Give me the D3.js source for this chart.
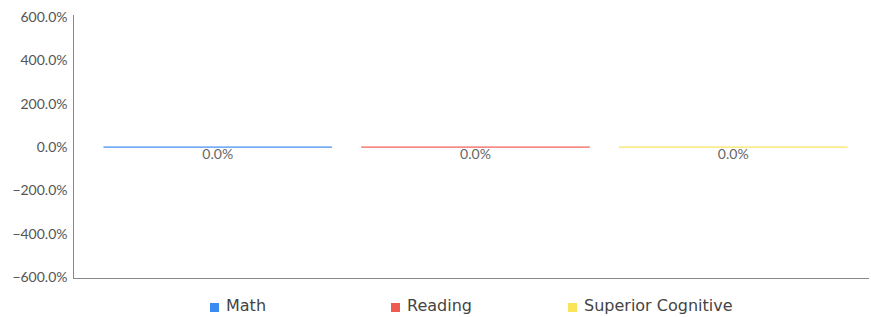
<!DOCTYPE html>
<html>
<head>
<meta charset="utf-8">
<script src="https://cdn.jsdelivr.net/npm/d3@7"></script>
<style>
  body { margin: 0; background: #fff; }
</style>
</head>
<body>
<div id="chart"></div>
<script>
var series = ["Math", "Reading", "Superior Cognitive"];
var values = [0, 0, 0];
var colors = ["#3a8bf2", "#ef5b51", "#f9e45a"];
var yTicks = [-6, -4, -2, 0, 2, 4, 6];

var svgWidth = 871;
var svgHeight = 317;

var svg = d3.select("#chart")
  .append("svg")
  .attr("width", svgWidth)
  .attr("height", svgHeight);

var x = d3.scaleBand()
  .domain(series)
  .range([89, 862])
  .paddingInner(0.113)
  .paddingOuter(0.056);

var y = d3.scaleLinear()
  .domain([-6, 6])
  .range([277, 17]);

// y axis
var leftAxis = d3.axisLeft(y)
  .tickValues(yTicks)
  .tickSize(0)
  .tickPadding(6)
  .tickFormat(d3.format(".1%"));

var yAxis = svg.append("g")
  .attr("transform", "translate(73.5,0)")
  .call(leftAxis)
  .attr("font-family", "Lato, sans-serif")
  .attr("font-size", 14);
yAxis.selectAll(".tick text").attr("fill", "#555");
yAxis.select(".domain").attr("stroke", "#888").attr("d", "M0,15V278.5");

// x baseline
svg.append("line")
  .attr("x1", 73).attr("x2", 869)
  .attr("y1", 278.5).attr("y2", 278.5)
  .attr("stroke", "#888");

// bars (zero height -> drawn as thin line)
series.forEach(function(s, i) {
  var v = values[i];
  var top = Math.min(y(v), y(0));
  var h = Math.abs(y(v) - y(0));
  svg.append("rect")
    .attr("x", x(s))
    .attr("y", top - 0.5)
    .attr("width", x.bandwidth())
    .attr("height", Math.max(h, 1.2))
    .attr("fill", colors[i]);

  svg.append("text")
    .attr("x", x(s) + x.bandwidth() / 2)
    .attr("y", y(v) + 12)
    .attr("text-anchor", "middle")
    .attr("font-family", "Lato, sans-serif")
    .attr("font-size", 14)
    .attr("fill", "#666")
    .text(d3.format(".1%")(v));
});

// legend
var legendX = [210, 391, 568];
var legend = svg.append("g");
series.forEach(function(s, i) {
  legend.append("rect")
    .attr("x", legendX[i])
    .attr("y", 303)
    .attr("width", 9)
    .attr("height", 9)
    .attr("fill", colors[i]);
  legend.append("text")
    .attr("x", legendX[i] + 16)
    .attr("y", 311)
    .attr("font-family", "DejaVu Sans, sans-serif")
    .attr("font-size", 16)
    .attr("fill", "#444")
    .text(s);
});
</script>
</body>
</html>
